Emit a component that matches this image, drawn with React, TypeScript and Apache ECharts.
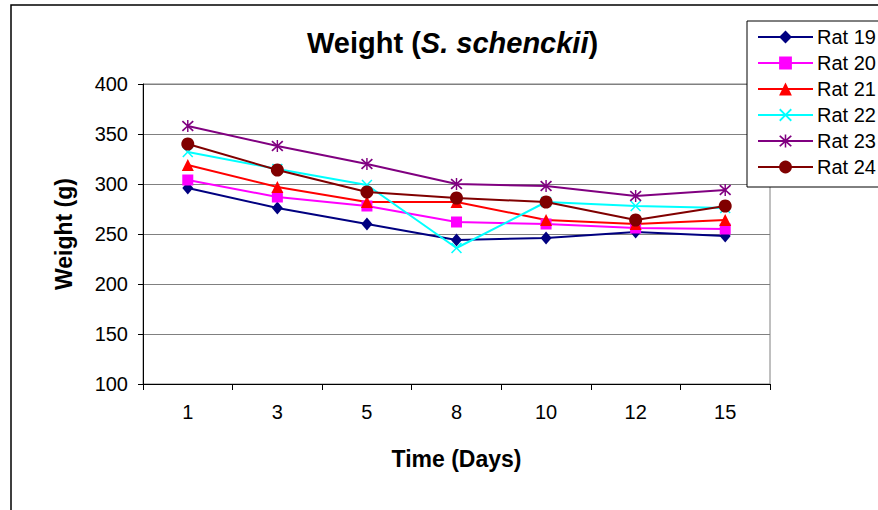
import React, { useEffect, useRef } from "react";
import * as echarts from "echarts";

const days = ["1", "3", "5", "8", "10", "12", "15"];
const rat19 = [296, 276, 260, 244, 246, 252, 248];
const rat20 = [304, 287, 278, 262, 260, 256, 255];
const rat21 = [319, 297, 282, 282, 264, 260, 264];
const rat22 = [332, 315, 299, 236, 282, 278, 276];
const rat23 = [358, 338, 320, 300, 298, 288, 294];
const rat24 = [340, 314, 292, 286, 282, 264, 278];

const seriesNames = ["Rat 19", "Rat 20", "Rat 21", "Rat 22", "Rat 23", "Rat 24"];
const seriesData = [rat19, rat20, rat21, rat22, rat23, rat24];
const seriesColors = ["#000080", "#FF00FF", "#FF0000", "#00FFFF", "#800080", "#800000"];

const X_PATH = "path://M1,0 L5,4 L9,0 L10,1 L6,5 L10,9 L9,10 L5,6 L1,10 L0,9 L4,5 L0,1 Z";
const STAR_PATH =
  "path://M1,0 L5,4 L9,0 L10,1 L6,5 L10,9 L9,10 L5,6 L1,10 L0,9 L4,5 L0,1 Z M4.4,-0.5 L5.6,-0.5 L5.6,10.5 L4.4,10.5 Z";
const seriesSymbols = ["diamond", "rect", "triangle", X_PATH, STAR_PATH, "circle"];
const seriesSizes: any[] = [[11, 13], 11, 12, 11, 12, 13];

const FONT = "'Liberation Sans', Arial, sans-serif";

export default function App() {
  const ref = useRef<HTMLDivElement>(null);
  useEffect(() => {
    if (!ref.current) return;
    const chart = echarts.init(ref.current, undefined, { renderer: "svg" });
    chart.setOption({
      animation: false,
      backgroundColor: "#ffffff",
      textStyle: { fontFamily: FONT },
      title: {
        text: "{b|Weight (}{i|S. schenckii}{b|)}",
        left: 302,
        top: 23,
        textStyle: {
          rich: {
            b: { fontFamily: FONT, fontSize: 29, fontWeight: "bold", color: "#000" },
            i: { fontFamily: FONT, fontSize: 29, fontWeight: "bold", fontStyle: "italic", color: "#000" },
          },
        },
      },
      graphic: [
        {
          type: "rect",
          shape: { x: 11, y: 5, width: 1000, height: 1000 },
          style: { fill: "none", stroke: "#000", lineWidth: 1.5 },
          silent: true,
          z: -10,
        },
      ],
      legend: {
        orient: "vertical",
        left: 747,
        top: 21,
        padding: [6, 60, 10, 10],
        itemWidth: 55,
        itemHeight: 16,
        itemGap: 6,
        borderColor: "#000",
        borderWidth: 1,
        backgroundColor: "#fff",
        textStyle: { fontFamily: FONT, fontSize: 20, color: "#000", padding: [0, 0, 0, -1] },
        data: seriesNames,
      },
      grid: {
        left: 143,
        top: 84,
        width: 627,
        height: 300,
        show: true,
        borderColor: "#808080",
        borderWidth: 1,
        backgroundColor: "transparent",
      },
      xAxis: {
        type: "category",
        data: days,
        boundaryGap: true,
        name: "Time (Days)",
        nameLocation: "middle",
        nameGap: 63,
        nameTextStyle: { fontFamily: FONT, fontSize: 23, fontWeight: "bold", color: "#000" },
        axisLine: { show: true, lineStyle: { color: "#000", width: 1 } },
        axisTick: { show: true, length: 6, lineStyle: { color: "#000" } },
        axisLabel: { fontFamily: FONT, fontSize: 20, color: "#000", margin: 18 },
        splitLine: { show: false },
      },
      yAxis: {
        type: "value",
        min: 100,
        max: 400,
        interval: 50,
        name: "Weight (g)",
        nameLocation: "middle",
        nameGap: 68,
        nameTextStyle: { fontFamily: FONT, fontSize: 23, fontWeight: "bold", color: "#000" },
        axisLine: { show: true, lineStyle: { color: "#000", width: 1 } },
        axisTick: { show: true, length: 5, lineStyle: { color: "#000" } },
        axisLabel: { fontFamily: FONT, fontSize: 20, color: "#000", margin: 15 },
        splitLine: { show: true, lineStyle: { color: "#808080", width: 1 } },
      },
      series: seriesNames.map((name, i) => ({
        name,
        type: "line",
        data: seriesData[i],
        symbol: seriesSymbols[i],
        symbolSize: seriesSizes[i],
        showAllSymbol: true,
        lineStyle: { color: seriesColors[i], width: 2 },
        itemStyle: { color: seriesColors[i], borderWidth: 0 },
        emphasis: { disabled: true },
      })),
    });
    return () => chart.dispose();
  }, []);
  return <div ref={ref} style={{ position: "absolute", left: 0, top: 0, width: 878, height: 510 }} />;
}
